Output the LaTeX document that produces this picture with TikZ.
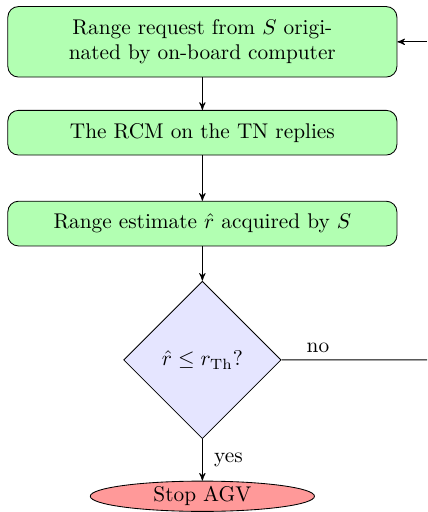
\documentclass[tikz,border=0pt]{standalone}
\usepackage{amsmath}
\usetikzlibrary{arrows,shapes,positioning,calc}

\begin{document}
\begin{tikzpicture}[>=stealth',node distance=1.5cm,on grid,
    blk/.style={rectangle,draw,fill=green!30,rounded corners=5pt,
      text width=6cm,inner sep=6pt,minimum height=19pt,align=center},
    dec/.style={diamond,draw,fill=blue!10,aspect=1,inner sep=0pt,
      minimum width=2.6cm,minimum height=2.6cm},
    stp/.style={ellipse,draw,fill=red!40,inner sep=0pt,
      minimum width=3.7cm,minimum height=0.5cm}]
      \useasboundingbox (-3.34,0.69) rectangle (3.71,-7.76);

      \node[blk] (req) at (0,0) {Range request from $S$ origi-\\nated by on-board computer};
      \node[blk,below=of req] (rep) {The RCM on the TN replies};
      \node[blk,below=of rep] (est) {Range estimate $\hat{r}$ acquired by $S$};
      \node[dec,below=2.25cm of est] (chk) {$\hat{r}\leq r_{\mathrm{Th}}$?};
      \node[stp,below=2.25cm of chk] (stop) {Stop AGV};

      \coordinate (back) at (3.71,0);
      \coordinate (out) at (3.71,-5.25);

      \draw[->] (req) -- (rep);
      \draw[->] (rep) -- (est);
      \draw[->] (est) -- (chk);
      \draw[->] (chk) -- node[right=2pt] {yes} (stop);
      \draw (chk.east) -- node[above,pos=0.25] {no} (out);
      \draw[->] (back) -- (req.east);
    \end{tikzpicture}
\end{document}
